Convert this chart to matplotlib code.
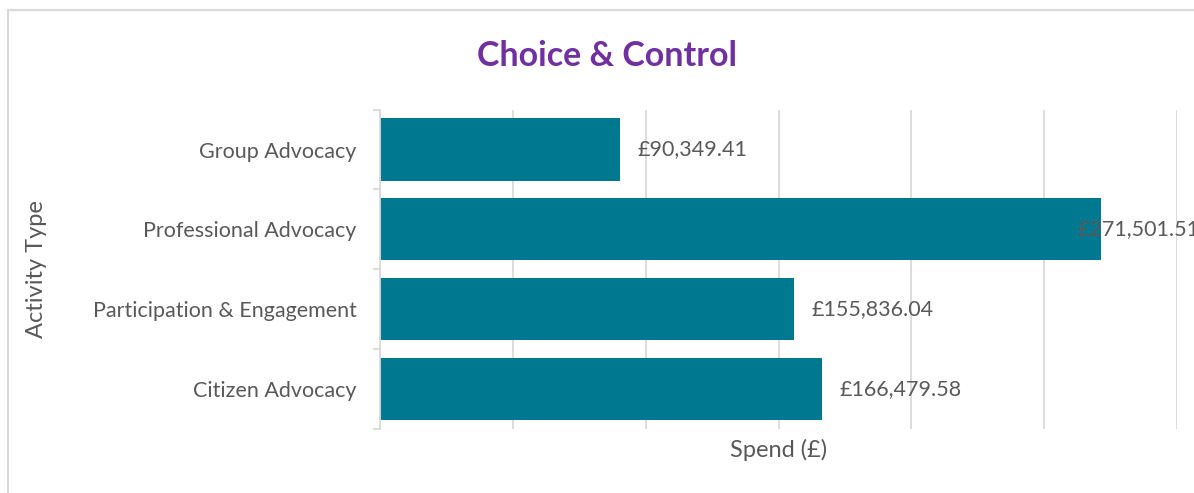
import matplotlib.pyplot as plt
from matplotlib.patches import Rectangle

# Spend per activity type (top to bottom as drawn)
activities = ['Group Advocacy', 'Professional Advocacy', 'Participation & Engagement', 'Citizen Advocacy']
spend = [90349.41, 271501.51, 155836.04, 166479.58]

bar_color = '#00788F'
text_color = '#595959'
grid_color = '#D9D9D9'

plt.rcParams['font.family'] = ['Lato', 'DejaVu Sans']

fig = plt.figure(figsize=(11.94, 4.93), dpi=100)
ax = fig.add_axes([0.3183, 0.1302, 0.6675, 0.6473])

y = list(range(len(activities)))
ax.barh(y, spend, height=0.78, color=bar_color, zorder=2)
ax.set_ylim(len(activities) - 0.5, -0.5)
ax.set_xlim(0, 300000)

# value labels; one that would run off the right side is pulled back in
label_cap = 262700
for yi, v in zip(y, spend):
    txt = f'£{v:,.2f}'
    if v > 250000:
        ax.text(label_cap, yi, txt, va='center', ha='left', fontsize=15.5,
                color=text_color, zorder=3, clip_on=False)
    else:
        ax.annotate(txt, (v, yi), xytext=(12.5, 0), textcoords='offset points',
                    va='center', ha='left', fontsize=15.5, color=text_color, zorder=3)

# vertical gridlines, no x tick labels
ax.set_xticks(range(0, 300001, 50000))
ax.tick_params(axis='x', length=0, labelbottom=False)
ax.grid(axis='x', color=grid_color, linewidth=1.3, zorder=0)

# category labels with separator ticks between them
ax.set_yticks(y)
ax.set_yticklabels(activities, fontsize=15.5, color=text_color)
ax.set_yticks([i - 0.5 for i in range(len(activities) + 1)], minor=True)
ax.tick_params(axis='y', which='major', length=0, pad=17)
ax.tick_params(axis='y', which='minor', length=5, color=grid_color, width=1.3)

for s in ['top', 'right', 'bottom']:
    ax.spines[s].set_visible(False)
ax.spines['left'].set_color(grid_color)
ax.spines['left'].set_linewidth(1.3)

ax.set_ylabel('Activity Type', fontsize=17, color=text_color)
ax.yaxis.set_label_coords(-0.418, 0.5)
ax.set_xlabel('Spend (£)', fontsize=17, color=text_color)
ax.xaxis.set_label_coords(0.5, -0.066)
ax.xaxis.label.set_va('center')

fig.text(607 / 1194, 1 - 56 / 493, 'Choice & Control', ha='center', va='center',
         fontsize=24.5, fontweight='bold', color='#7030A0')

# chart frame
fig.patches.append(Rectangle((8 / 1194, -0.2), 1.2, 1.2 - 10 / 493,
                             transform=fig.transFigure, fill=False,
                             edgecolor=grid_color, linewidth=1.5))

fig.savefig('out.png', dpi=100, facecolor='white')
